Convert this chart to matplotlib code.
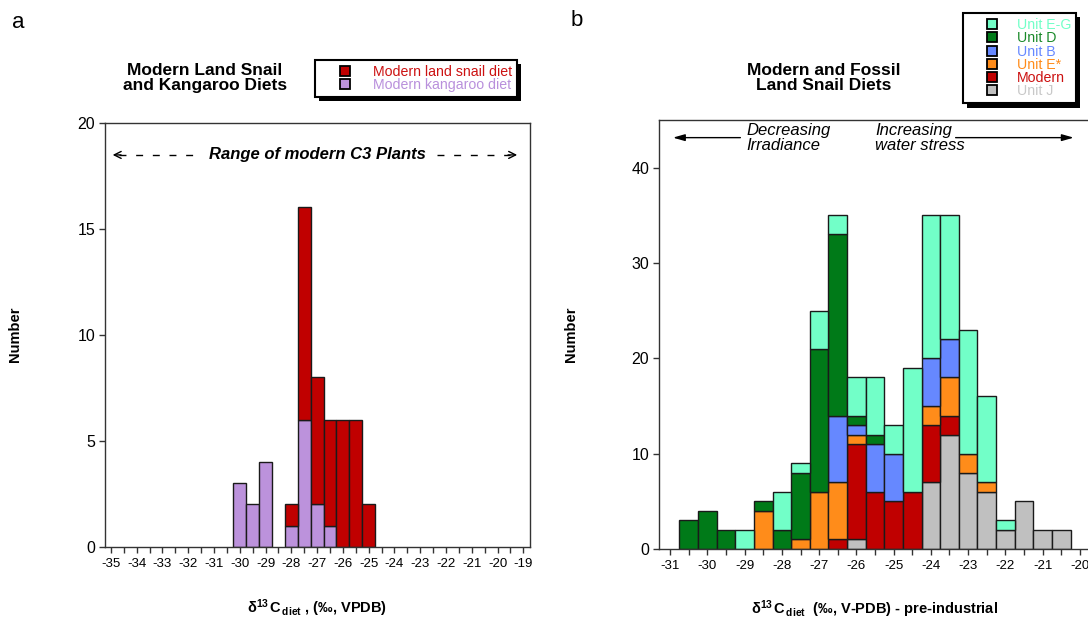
"""Stable-isotope diet histograms: modern snails/kangaroos (a) and fossil units (b)."""
import matplotlib
matplotlib.use("Agg")
import matplotlib.pyplot as plt
import numpy as np
from matplotlib import patheffects
from matplotlib.lines import Line2D
from matplotlib.ticker import MultipleLocator

plt.rcParams["font.family"] = ["Liberation Sans", "DejaVu Sans"]
plt.rcParams["axes.unicode_minus"] = False
plt.rcParams["mathtext.fontset"] = "custom"
plt.rcParams["mathtext.rm"] = "Liberation Sans"
plt.rcParams["mathtext.bf"] = "Liberation Sans:bold"
plt.rcParams["mathtext.it"] = "Liberation Sans:italic"

# ---- panel a: 0.5 permil bins, kangaroo at the bottom, snails stacked on top ----
A_BINS = [-30.0, -29.5, -29.0, -28.5, -28.0, -27.5, -27.0, -26.5, -26.0, -25.5, -25.0]
A_KANGAROO = [3, 2, 4, 0, 1, 6, 2, 1, 0, 0, 0]
A_SNAIL = [0, 0, 0, 0, 1, 10, 6, 5, 6, 6, 2]
A_LABELS = ["Modern land snail diet", "Modern kangaroo diet"]

# ---- panel b: stacked from the bottom: J, Modern, E*, B, D, E-G ----
B_BINS = [-30.5, -30.0, -29.5, -29.0, -28.5, -28.0, -27.5, -27.0, -26.5, -26.0, -25.5,
          -25.0, -24.5, -24.0, -23.5, -23.0, -22.5, -22.0, -21.5, -21.0, -20.5]
B_UNIT_J = [0, 0, 0, 0, 0, 0, 0, 0, 0, 1, 0, 0, 0, 7, 12, 8, 6, 2, 5, 2, 2]
B_MODERN = [0, 0, 0, 0, 0, 0, 0, 0, 1, 10, 6, 5, 6, 6, 2, 0, 0, 0, 0, 0, 0]
B_UNIT_ESTAR = [0, 0, 0, 0, 4, 0, 1, 6, 6, 1, 0, 0, 0, 2, 4, 2, 1, 0, 0, 0, 0]
B_UNIT_B = [0, 0, 0, 0, 0, 0, 0, 0, 7, 1, 5, 5, 0, 5, 4, 0, 0, 0, 0, 0, 0]
B_UNIT_D = [3, 4, 2, 0, 1, 2, 7, 15, 19, 1, 1, 0, 0, 0, 0, 0, 0, 0, 0, 0, 0]
B_UNIT_EG = [0, 0, 0, 2, 0, 4, 1, 4, 2, 4, 6, 3, 13, 15, 13, 13, 9, 1, 0, 0, 0]
B_LABELS = ["Unit E-G", "Unit D", "Unit B", "Unit E*", "Modern", "Unit J"]

RED = "#c00000"
PURPLE = "#bc92dc"
C_EG, C_D, C_B, C_ESTAR, C_J = "#72ffc8", "#007a18", "#6688ff", "#ff8c1a", "#c0c0c0"
EDGE = "#1a1a1a"


def stacked_bars(ax, centers, layers, colors):
    centers = np.asarray(centers, float)
    bottom = np.zeros(len(centers))
    for vals, col in zip(layers, colors):
        vals = np.asarray(vals, float)
        m = vals > 0  # skip empty segments so no stray edge lines at the base
        ax.bar(centers[m], vals[m], width=0.5, bottom=bottom[m], color=col,
               edgecolor=EDGE, linewidth=1.0, zorder=2)
        bottom += vals


def style_axis(ax, xlim, ylim, ystep):
    ax.set_xlim(*xlim)
    ax.set_ylim(*ylim)
    ax.xaxis.set_major_locator(MultipleLocator(1))
    ax.xaxis.set_minor_locator(MultipleLocator(0.5))
    ax.yaxis.set_major_locator(MultipleLocator(ystep))
    ax.tick_params(which="both", direction="out", length=4, width=1, color="#333333",
                   top=False, right=False)
    ax.tick_params(axis="x", labelsize=9.5, pad=4)
    ax.tick_params(axis="y", labelsize=11.5, pad=3)
    for s in ax.spines.values():
        s.set_linewidth(1.0)
        s.set_color("#333333")


def boxed_legend(ax, labels, colors, text_colors, anchor, handlelength, textpad):
    handles = [Line2D([], [], ls="none", marker="s", markersize=7.5, markerfacecolor=c,
                      markeredgecolor="k", markeredgewidth=1.3) for c in colors]
    leg = ax.legend(handles, labels, loc="upper left", bbox_to_anchor=anchor,
                    bbox_transform=ax.figure.transFigure, fancybox=False, framealpha=1,
                    borderpad=0.35, borderaxespad=0, handlelength=handlelength,
                    handletextpad=textpad, labelspacing=-0.05, labelcolor=text_colors,
                    fontsize=10.2)
    fr = leg.get_frame()
    fr.set_edgecolor("k")
    fr.set_linewidth(1.5)
    fr.set_path_effects([patheffects.SimplePatchShadow(offset=(3, -3), shadow_rgbFace="k", alpha=1),
                         patheffects.Normal()])
    return leg


W, H = 1088, 625
fig = plt.figure(figsize=(W / 100, H / 100), dpi=100)

# ---------------- panel a ----------------
ax1 = fig.add_axes([105 / W, 1 - 546.7 / H, 425 / W, 424 / H])
stacked_bars(ax1, A_BINS, [A_KANGAROO, A_SNAIL], [PURPLE, RED])
style_axis(ax1, (-35.23, -18.74), (0, 20), 5)

y_rng = 18.48
ax1.text(-27.0, y_rng, "Range of modern C3 Plants", ha="center", va="center",
         fontsize=12, fontweight="bold", fontstyle="italic")
ax1.plot([-34.7, -31.66], [y_rng, y_rng], color="k", lw=1, ls=(0, (5, 7)))
ax1.plot([-22.35, -19.5], [y_rng, y_rng], color="k", lw=1, ls=(0, (5, 7)))
ax1.annotate("", xy=(-35.04, y_rng), xytext=(-34.5, y_rng),
             arrowprops=dict(arrowstyle="->,head_length=0.5,head_width=0.25", lw=1, color="k"))
ax1.annotate("", xy=(-19.13, y_rng), xytext=(-19.7, y_rng),
             arrowprops=dict(arrowstyle="->,head_length=0.5,head_width=0.25", lw=1, color="k"))

ax1.set_ylabel("Number", fontsize=10.5, fontweight="bold")
ax1.yaxis.set_label_coords(-0.195, 0.5)
ax1.set_xlabel(r"$\mathbf{δ^{13}\,C_{\,diet}}$ , (‰, VPDB)", fontsize=10.5, fontweight="bold")
ax1.xaxis.set_label_coords(0.5, -0.12)
ax1.xaxis.label.set_va("top")

boxed_legend(ax1, A_LABELS, [RED, PURPLE], ["#cc1111", "#b990dc"],
             (315 / W, 1 - 60 / H), 3.55, 0.2)
fig.text(205 / W, 1 - 78 / H, "Modern Land Snail\nand Kangaroo Diets", ha="center",
         va="center", fontsize=12.5, fontweight="bold", linespacing=1.0)
fig.text(18 / W, 1 - 22 / H, "a", ha="center", va="center", fontsize=16)

# ---------------- panel b ----------------
ax2 = fig.add_axes([659 / W, 1 - 549 / H, 432 / W, 429 / H])
stacked_bars(ax2, B_BINS,
             [B_UNIT_J, B_MODERN, B_UNIT_ESTAR, B_UNIT_B, B_UNIT_D, B_UNIT_EG],
             [C_J, RED, C_ESTAR, C_B, C_D, C_EG])
style_axis(ax2, (-31.3, -19.7), (0, 45), 10)

y_arr = 43.15
ax2.annotate("", xy=(-31.0, y_arr), xytext=(-29.04, y_arr),
             arrowprops=dict(arrowstyle="-|>,head_length=0.7,head_width=0.2", lw=1, color="k"))
ax2.annotate("", xy=(-20.09, y_arr), xytext=(-23.41, y_arr),
             arrowprops=dict(arrowstyle="-|>,head_length=0.7,head_width=0.2", lw=1, color="k"))
ax2.text(-28.96, 43.08, "Decreasing\nIrradiance", ha="left", va="center", fontsize=12,
         fontstyle="italic", linespacing=1.03)
ax2.text(-25.5, 43.08, "Increasing\nwater stress", ha="left", va="center", fontsize=12,
         fontstyle="italic", linespacing=1.03)

ax2.set_ylabel("Number", fontsize=10.5, fontweight="bold")
ax2.yaxis.set_label_coords(-0.1875, 0.5)
ax2.set_xlabel(r"$\mathbf{δ^{13}\,C_{\,diet}}$  (‰, V-PDB) - pre-industrial", fontsize=10.5,
               fontweight="bold")
ax2.xaxis.set_label_coords(0.5, -0.114)
ax2.xaxis.label.set_va("top")

boxed_legend(ax2, B_LABELS, [C_EG, C_D, C_B, C_ESTAR, RED, C_J],
             [C_EG, "#1a8a2a", C_B, C_ESTAR, "#cc1111", "#c8c8c8"],
             (963 / W, 1 - 13 / H), 3.4, 0.05)
fig.text(824 / W, 1 - 78 / H, "Modern and Fossil\nLand Snail Diets", ha="center",
         va="center", fontsize=12.5, fontweight="bold", linespacing=1.0)
fig.text(577 / W, 1 - 20 / H, "b", ha="center", va="center", fontsize=16)

fig.savefig("out.png", dpi=100)
